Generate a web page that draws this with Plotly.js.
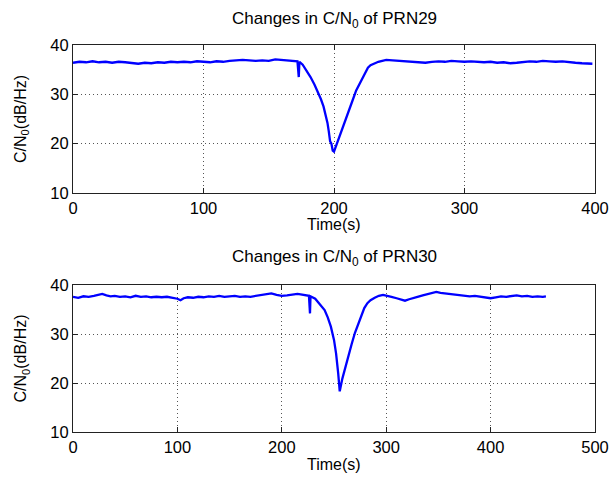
<!DOCTYPE html>
<html>
<head>
<meta charset="utf-8">
<script src="https://cdn.plot.ly/plotly-3.0.1.min.js"></script>
<style>html,body{margin:0;padding:0;background:#fff;}#chart{width:613px;height:484px;}</style>
</head>
<body>
<div id="chart"></div>
<script>
// PRN29 series (time in s, C/N0 in dB/Hz)
const timePRN29 = [0,5,10,15,20,25,30,35,40,45,50,55,60,65,70,75,80,85,90,95,100,105,110,115,120,125,130,135,140,145,150,155,160,165,170,172,173,173.5,176,179,182,185,188,190,192,194,195,196,197,198,199,200,202,205,208,211,214,217,220,222,224,226,228,231,234,237,240,245,250,255,260,265,270,275,280,285,290,295,300,305,310,315,320,325,330,335,340,345,350,355,360,365,370,375,380,385,390,395,398];
const cnPRN29 = [36.4,36.6,36.5,36.7,36.5,36.6,36.4,36.6,36.5,36.3,36.2,36.4,36.3,36.5,36.4,36.6,36.5,36.6,36.5,36.7,36.6,36.5,36.7,36.6,36.8,36.9,37.0,36.9,36.8,36.9,36.8,37.1,37.0,36.9,36.8,36.7,33.5,36.6,36.0,34.8,33.5,32.0,30.3,29.0,27.5,25.5,24.2,22.5,20.5,20.0,18.6,18.4,19.8,21.9,24.0,26.4,28.6,30.8,32.4,33.5,34.5,35.4,35.9,36.3,36.6,36.8,37.0,36.9,36.8,36.7,36.6,36.5,36.4,36.6,36.7,36.6,36.8,36.7,36.6,36.7,36.6,36.5,36.6,36.4,36.5,36.3,36.4,36.6,36.7,36.6,36.8,36.7,36.6,36.7,36.5,36.4,36.3,36.3,36.2];

// PRN30 series
const timePRN30 = [0,5,10,15,20,25,28,32,36,40,45,50,55,60,65,70,75,80,85,90,95,100,103,106,110,115,120,125,130,135,140,145,150,155,160,165,170,175,180,185,190,195,200,205,210,215,218,222,226,227,227.5,232,237,241,244,247,250,252,254,255.5,258,261,264,267,270,273,276,279,282,285,289,293,297,300,305,310,315,318,322,326,330,335,340,345,348,352,356,360,365,370,375,380,385,390,395,400,405,410,415,420,425,430,435,440,445,450,453];
const cnPRN30 = [37.6,37.4,37.7,37.6,37.8,38.0,38.2,37.9,37.7,37.8,37.6,37.7,37.5,37.8,37.6,37.7,37.5,37.6,37.5,37.6,37.4,37.2,36.9,37.3,37.5,37.4,37.6,37.5,37.7,37.6,37.8,37.6,37.7,37.8,37.6,37.7,37.6,37.8,37.9,38.1,38.3,38.0,37.8,37.9,38.1,38.2,38.1,37.9,37.8,34.2,37.7,37.2,36.0,34.9,33.4,31.5,28.8,26.0,22.0,18.3,20.9,23.4,25.8,28.0,30.2,32.0,33.8,35.3,36.3,36.9,37.4,37.8,38.0,37.8,37.6,37.3,37.0,36.8,37.1,37.4,37.6,37.9,38.2,38.5,38.6,38.4,38.3,38.2,38.0,37.9,37.8,37.7,37.8,37.6,37.5,37.3,37.5,37.7,37.6,37.8,37.9,37.7,37.8,37.6,37.7,37.6,37.7];

const titles = ["Changes in C/N<sub>0</sub> of PRN29", "Changes in C/N<sub>0</sub> of PRN30"];
const xTitle = "Time(s)";
const yTitle = "C/N<sub>0</sub>(dB/Hz)";
const yTicks = [10, 20, 30, 40];
const xTicksTop = [0, 100, 200, 300, 400];
const xTicksBottom = [0, 100, 200, 300, 400, 500];

const FONT = "Arial, 'Liberation Sans', Helvetica, sans-serif";
const lineStyle = {color: "rgb(0,0,255)", width: 2.3};
const TOP_DOM = [0.6176, 1], BOT_DOM = [0, 0.3798];

const traces = [
  {x: timePRN29, y: cnPRN29, type: "scatter", mode: "lines", line: lineStyle, xaxis: "x", yaxis: "y", hoverinfo: "skip"},
  {x: timePRN30, y: cnPRN30, type: "scatter", mode: "lines", line: lineStyle, xaxis: "x2", yaxis: "y2", hoverinfo: "skip"}
];

const common = {
  showline: true, mirror: "ticks", linecolor: "#222", linewidth: 1,
  ticks: "inside", ticklen: 5, tickcolor: "#222",
  showgrid: true, gridcolor: "#555", griddash: "1px,3px", gridwidth: 1,
  zeroline: false, tickfont: {family: FONT, size: 16.5, color: "#000"}
};
function xAxis(range, ticks, anchor) {
  return Object.assign({range: range, tickvals: ticks, ticktext: ticks.map(String), anchor: anchor, domain: [0, 1]}, common);
}
function yAxis(domain, anchor) {
  return Object.assign({domain: domain, range: [10, 40], tickvals: yTicks, anchor: anchor}, common);
}

const tf = {family: FONT, size: 16, color: "#000"};
const ttf = {family: FONT, size: 17, color: "#000"};
const layout = {
  width: 613, height: 484,
  margin: {l: 73, r: 18, t: 45, b: 52},
  paper_bgcolor: "#fff", plot_bgcolor: "#fff",
  showlegend: false,
  xaxis: xAxis([0, 400], xTicksTop, "y"),
  yaxis: yAxis(TOP_DOM, "x"),
  xaxis2: xAxis([0, 500], xTicksBottom, "y2"),
  yaxis2: yAxis(BOT_DOM, "x2"),
  annotations: [
    {text: titles[0], xref: "paper", yref: "paper", x: 0.5, y: TOP_DOM[1], yshift: 25, showarrow: false, xanchor: "center", yanchor: "middle", font: ttf},
    {text: titles[1], xref: "paper", yref: "paper", x: 0.5, y: BOT_DOM[1], yshift: 27, showarrow: false, xanchor: "center", yanchor: "middle", font: ttf},
    {text: xTitle, xref: "paper", yref: "paper", x: 0.5, y: TOP_DOM[0], yshift: -32, showarrow: false, xanchor: "center", yanchor: "middle", font: tf},
    {text: xTitle, xref: "paper", yref: "paper", x: 0.5, y: BOT_DOM[0], yshift: -32, showarrow: false, xanchor: "center", yanchor: "middle", font: tf},
    {text: yTitle, xref: "paper", yref: "paper", x: 0, xshift: -51, y: (TOP_DOM[0] + TOP_DOM[1]) / 2, showarrow: false, textangle: -90, xanchor: "center", yanchor: "middle", font: tf},
    {text: yTitle, xref: "paper", yref: "paper", x: 0, xshift: -51, y: (BOT_DOM[0] + BOT_DOM[1]) / 2, showarrow: false, textangle: -90, xanchor: "center", yanchor: "middle", font: tf}
  ]
};

Plotly.newPlot("chart", traces, layout, {staticPlot: true, displayModeBar: false});
</script>
</body>
</html>
